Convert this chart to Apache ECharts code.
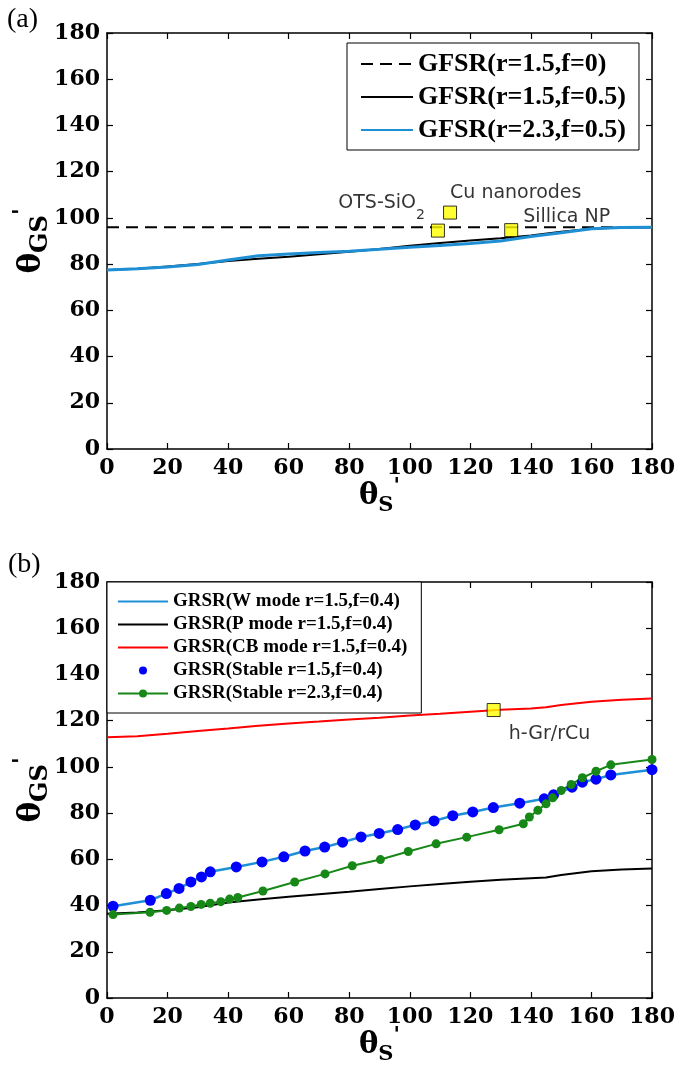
<!DOCTYPE html>
<html>
<head>
<meta charset="utf-8">
<script src="https://cdn.jsdelivr.net/npm/echarts@6/dist/echarts.min.js"></script>
<style>html,body{margin:0;padding:0;background:#fff}#c{width:675px;height:1078px}</style>
</head>
<body>
<div id="c"></div>
<script>
// ---------------- Panel (a) data ----------------
const aX = [0,10,20,30,40,50,60,70,80,90,100,110,120,130,140,150,160,170,180];
const aDashX = [0,180];
const aDashY = [96,96];                                   // GFSR(r=1.5,f=0)
const aBlackY = [77.5,78,79,80,81.3,82.3,83.2,84.3,85.4,86.5,87.9,89.1,90.2,91.2,92.4,94,95.3,95.8,95.9]; // GFSR(r=1.5,f=0.5)
const aBlueY  = [77.5,78,78.8,79.8,81.8,83.6,84.4,85,85.6,86.4,87.3,88.1,88.9,90,91.9,93.6,95.3,95.8,95.9]; // GFSR(r=2.3,f=0.5)
const annANames = ['OTS-SiO2','Cu nanorodes','Sillica NP'];
const annAX = [109.3,113.3,133.5];
const annAY = [94.5,102.3,94.7];

// ---------------- Panel (b) data ----------------
const bLineX = [0,10,20,30,40,50,60,70,80,90,100,110,120,130,140,145,150,160,170,180];
const bPY  = [36.5,37,38,39.3,41.3,42.6,43.8,44.9,46,47.2,48.3,49.3,50.3,51.2,51.8,52.1,53.2,54.8,55.6,56];   // P mode
const bCBY = [112.8,113.3,114.3,115.5,116.6,117.8,118.8,119.6,120.5,121.3,122.2,123,123.9,124.7,125.3,125.8,126.8,128.2,129.1,129.6]; // CB mode
const bStable15X = [2,14.3,19.6,23.8,27.7,31.2,34.1,42.7,51.2,58.4,65.4,71.9,77.8,83.9,89.9,96,101.8,108,114.2,120.8,127.6,136.3,144.4,147.5,153.6,157,161.5,166.4,180];
const bStable15Y = [39.7,42.3,45.2,47.4,50.2,52.4,54.6,56.7,58.9,61.1,63.6,65.3,67.4,69.7,71.2,72.9,74.9,76.6,78.9,80.5,82.4,84.3,86.2,87.9,91.2,93.4,94.7,96.5,98.8];
const bStable23X = [2,14.2,19.7,23.9,27.7,31.1,34.1,37.6,40.5,43.2,51.5,62,72,81,90.3,99.5,108.7,118.8,129.5,137.5,139.5,142.3,145,147.2,150,153.3,157,161.5,166.4,180];
const bStable23Y = [36.1,37.1,37.9,38.9,39.6,40.5,41,41.7,42.8,43.5,46.3,50.2,53.7,57.2,59.9,63.4,66.7,69.6,72.8,75.4,78.3,81.2,84,86.6,89.8,92.4,95.3,98.1,100.9,103.2];
const annBNames = ['h-Gr/rCu'];
const annBX = [127.7];
const annBY = [124.6];

// ---------------- tick labels ----------------
const axisMin = 0, axisMax = 180, axisStep = 20;

// ---------------- helpers ----------------
const zip = (xs, ys) => xs.map((x, i) => [x, ys[i]]);
const BLUE = '#1e8fd5', GREEN = '#178817', RED = '#ff0000';
const tickFont = {color:'#000', fontFamily:'DejaVu Serif', fontWeight:'bold', fontSize:22};
const nameRichX = {
  t: {fontFamily:'DejaVu Serif', fontWeight:'bold', fontSize:29, lineHeight:40, color:'#000'},
  s: {fontFamily:'DejaVu Serif', fontWeight:'bold', fontSize:21, lineHeight:20, verticalAlign:'bottom', color:'#000'},
  p: {fontFamily:'DejaVu Serif', fontWeight:'bold', fontSize:21, lineHeight:20, verticalAlign:'top', color:'#000'}
};
const nameRichY = {
  t: {fontFamily:'DejaVu Serif', fontWeight:'bold', fontSize:31, lineHeight:42, color:'#000'},
  s: {fontFamily:'DejaVu Serif', fontWeight:'bold', fontSize:24, lineHeight:22, verticalAlign:'bottom', color:'#000'},
  p: {fontFamily:'DejaVu Serif', fontWeight:'bold', fontSize:22, lineHeight:20, verticalAlign:'top', color:'#000'}
};
function xAx(grid, pos, labels) {
  const o = {type:'value', gridIndex:grid, position:pos, min:axisMin, max:axisMax, interval:axisStep,
    axisLine:{show:true, onZero:false, lineStyle:{color:'#000', width:1.5}},
    axisTick:{show:true, inside:true, length:6, lineStyle:{color:'#000', width:1.2}},
    axisLabel:Object.assign({show:labels, margin:8}, tickFont),
    splitLine:{show:false}};
  if (labels) {
    o.name = "{t|θ}{s|S}{p|'}";
    o.nameLocation = 'middle'; o.nameGap = 27; o.nameMoveOverlap = false;
    o.nameTextStyle = {rich: nameRichX};
  }
  return o;
}
function yAx(grid, pos, labels) {
  const o = {type:'value', gridIndex:grid, position:pos, min:axisMin, max:axisMax, interval:axisStep,
    axisLine:{show:true, onZero:false, lineStyle:{color:'#000', width:1.5}},
    axisTick:{show:true, inside:true, length:6, lineStyle:{color:'#000', width:1.2}},
    axisLabel:Object.assign({show:labels, margin:7}, tickFont),
    splitLine:{show:false}};
  if (labels) {
    o.name = "{t|θ}{s|GS}{p|'}";
    o.nameLocation = 'middle'; o.nameGap = 54; o.nameRotate = 90; o.nameMoveOverlap = false;
    o.nameTextStyle = {rich: nameRichY};
  }
  return o;
}
const annFont = {color:'#000', fontFamily:'DejaVu Sans', fontSize:19};
const annARich = {
  a: {fontFamily:'DejaVu Sans', fontSize:19, lineHeight:40, color:'#000'},
  b: {fontFamily:'DejaVu Sans', fontSize:14, lineHeight:10, verticalAlign:'bottom', color:'#000'}
};
const annALabelCfg = [
  {position:'left', distance:6, offset:[0,-28]},
  {position:'right', distance:0, offset:[-7,-20]},
  {position:'right', distance:0, offset:[5,-13]}
];
function fmtAnn(name) {
  const m = name.match(/^(.*SiO)(\d)$/);
  return m ? '{a|' + m[1] + '}{b|' + m[2] + '}' : '{a|' + name + '}';
}
const sqStyle = {color:'#ffff00', borderColor:'#000', borderWidth:1};
const noDot = name => ({name: name, itemStyle:{opacity:0}});

const chart = echarts.init(document.getElementById('c'), null, {renderer:'canvas'});
chart.setOption({
  animation: false,
  backgroundColor: '#fff',
  grid: [
    {left:107, top:33, width:545, height:416, containLabel:false, outerBoundsMode:'none'},
    {left:107, top:582, width:545, height:416, containLabel:false, outerBoundsMode:'none'}
  ],
  xAxis: [xAx(0,'bottom',true), xAx(0,'top',false), xAx(1,'bottom',true), xAx(1,'top',false)],
  yAxis: [yAx(0,'left',true), yAx(0,'right',false), yAx(1,'left',true), yAx(1,'right',false)],
  legend: [
    {data:[noDot('GFSR(r=1.5,f=0)'), noDot('GFSR(r=1.5,f=0.5)'), noDot('GFSR(r=2.3,f=0.5)')],
     orient:'vertical', left:347, top:43, itemWidth:52, itemHeight:14, itemGap:7,
     padding:[8,13,7,13], borderColor:'#000', borderWidth:1, backgroundColor:'#fff',
     selectedMode:false, z:10,
     textStyle:{fontFamily:'Liberation Serif', fontWeight:'bold', fontSize:26, lineHeight:26, color:'#000'}},
    {data:[noDot('GRSR(W mode r=1.5,f=0.4)'), noDot('GRSR(P mode r=1.5,f=0.4)'), noDot('GRSR(CB mode r=1.5,f=0.4)'),
           'GRSR(Stable r=1.5,f=0.4)', 'GRSR(Stable r=2.3,f=0.4)'],
     orient:'vertical', left:107, top:582, itemWidth:50, itemHeight:10, itemGap:4,
     padding:[10,14,10,10], borderColor:'#000', borderWidth:1, backgroundColor:'#fff',
     selectedMode:false, z:10,
     textStyle:{fontFamily:'Liberation Serif', fontWeight:'bold', fontSize:19, lineHeight:19, color:'#000'}}
  ],
  graphic: [
    {type:'text', left:7, top:6, style:{text:'(a)', fontFamily:'Liberation Serif', fontSize:28, fill:'#000'}},
    {type:'text', left:8, top:551, style:{text:'(b)', fontFamily:'Liberation Serif', fontSize:28, fill:'#000'}}
  ],
  series: [
    // panel (a)
    {name:'GFSR(r=1.5,f=0)', type:'line', xAxisIndex:0, yAxisIndex:0, data:zip(aDashX, aDashY),
     symbol:'none', lineStyle:{color:'#000', width:2, type:[12,7]}, itemStyle:{color:'#000'}},
    {name:'GFSR(r=1.5,f=0.5)', type:'line', xAxisIndex:0, yAxisIndex:0, data:zip(aX, aBlackY),
     symbol:'none', lineStyle:{color:'#000', width:2}, itemStyle:{color:'#000'}},
    {name:'GFSR(r=2.3,f=0.5)', type:'line', xAxisIndex:0, yAxisIndex:0, data:zip(aX, aBlueY),
     symbol:'none', lineStyle:{color:BLUE, width:3}, itemStyle:{color:BLUE}},
    {name:'annA', type:'scatter', xAxisIndex:0, yAxisIndex:0, symbol:'rect', symbolSize:13, z:5,
     itemStyle:sqStyle,
     data: annAX.map((x, i) => ({value:[x, annAY[i]], name:annANames[i],
       label: Object.assign({show:true, formatter: fmtAnn(annANames[i]), rich:annARich}, annALabelCfg[i])}))},
    // panel (b)
    {name:'GRSR(W mode r=1.5,f=0.4)', type:'line', xAxisIndex:2, yAxisIndex:2, data:zip(bStable15X, bStable15Y),
     symbol:'none', lineStyle:{color:BLUE, width:2.5}, itemStyle:{color:BLUE}},
    {name:'GRSR(P mode r=1.5,f=0.4)', type:'line', xAxisIndex:2, yAxisIndex:2, data:zip(bLineX, bPY),
     symbol:'none', lineStyle:{color:'#000', width:2}, itemStyle:{color:'#000'}},
    {name:'GRSR(CB mode r=1.5,f=0.4)', type:'line', xAxisIndex:2, yAxisIndex:2, data:zip(bLineX, bCBY),
     symbol:'none', lineStyle:{color:RED, width:2}, itemStyle:{color:RED}},
    {name:'GRSR(Stable r=1.5,f=0.4)', type:'line', xAxisIndex:2, yAxisIndex:2, data:zip(bStable15X, bStable15Y),
     symbol:'circle', symbolSize:11, showSymbol:true, lineStyle:{width:0, opacity:0}, itemStyle:{color:'#0000ff'}},
    {name:'GRSR(Stable r=2.3,f=0.4)', type:'line', xAxisIndex:2, yAxisIndex:2, data:zip(bStable23X, bStable23Y),
     symbol:'circle', symbolSize:9, showSymbol:true, lineStyle:{color:GREEN, width:2}, itemStyle:{color:GREEN}},
    {name:'annB', type:'scatter', xAxisIndex:2, yAxisIndex:2, symbol:'rect', symbolSize:13, z:5,
     itemStyle:sqStyle,
     data: annBX.map((x, i) => ({value:[x, annBY[i]], name:annBNames[i]})),
     label:Object.assign({show:true, formatter:'{b}', position:'right', distance:8, offset:[0,24]}, annFont)}
  ]
});
</script>
</body>
</html>
